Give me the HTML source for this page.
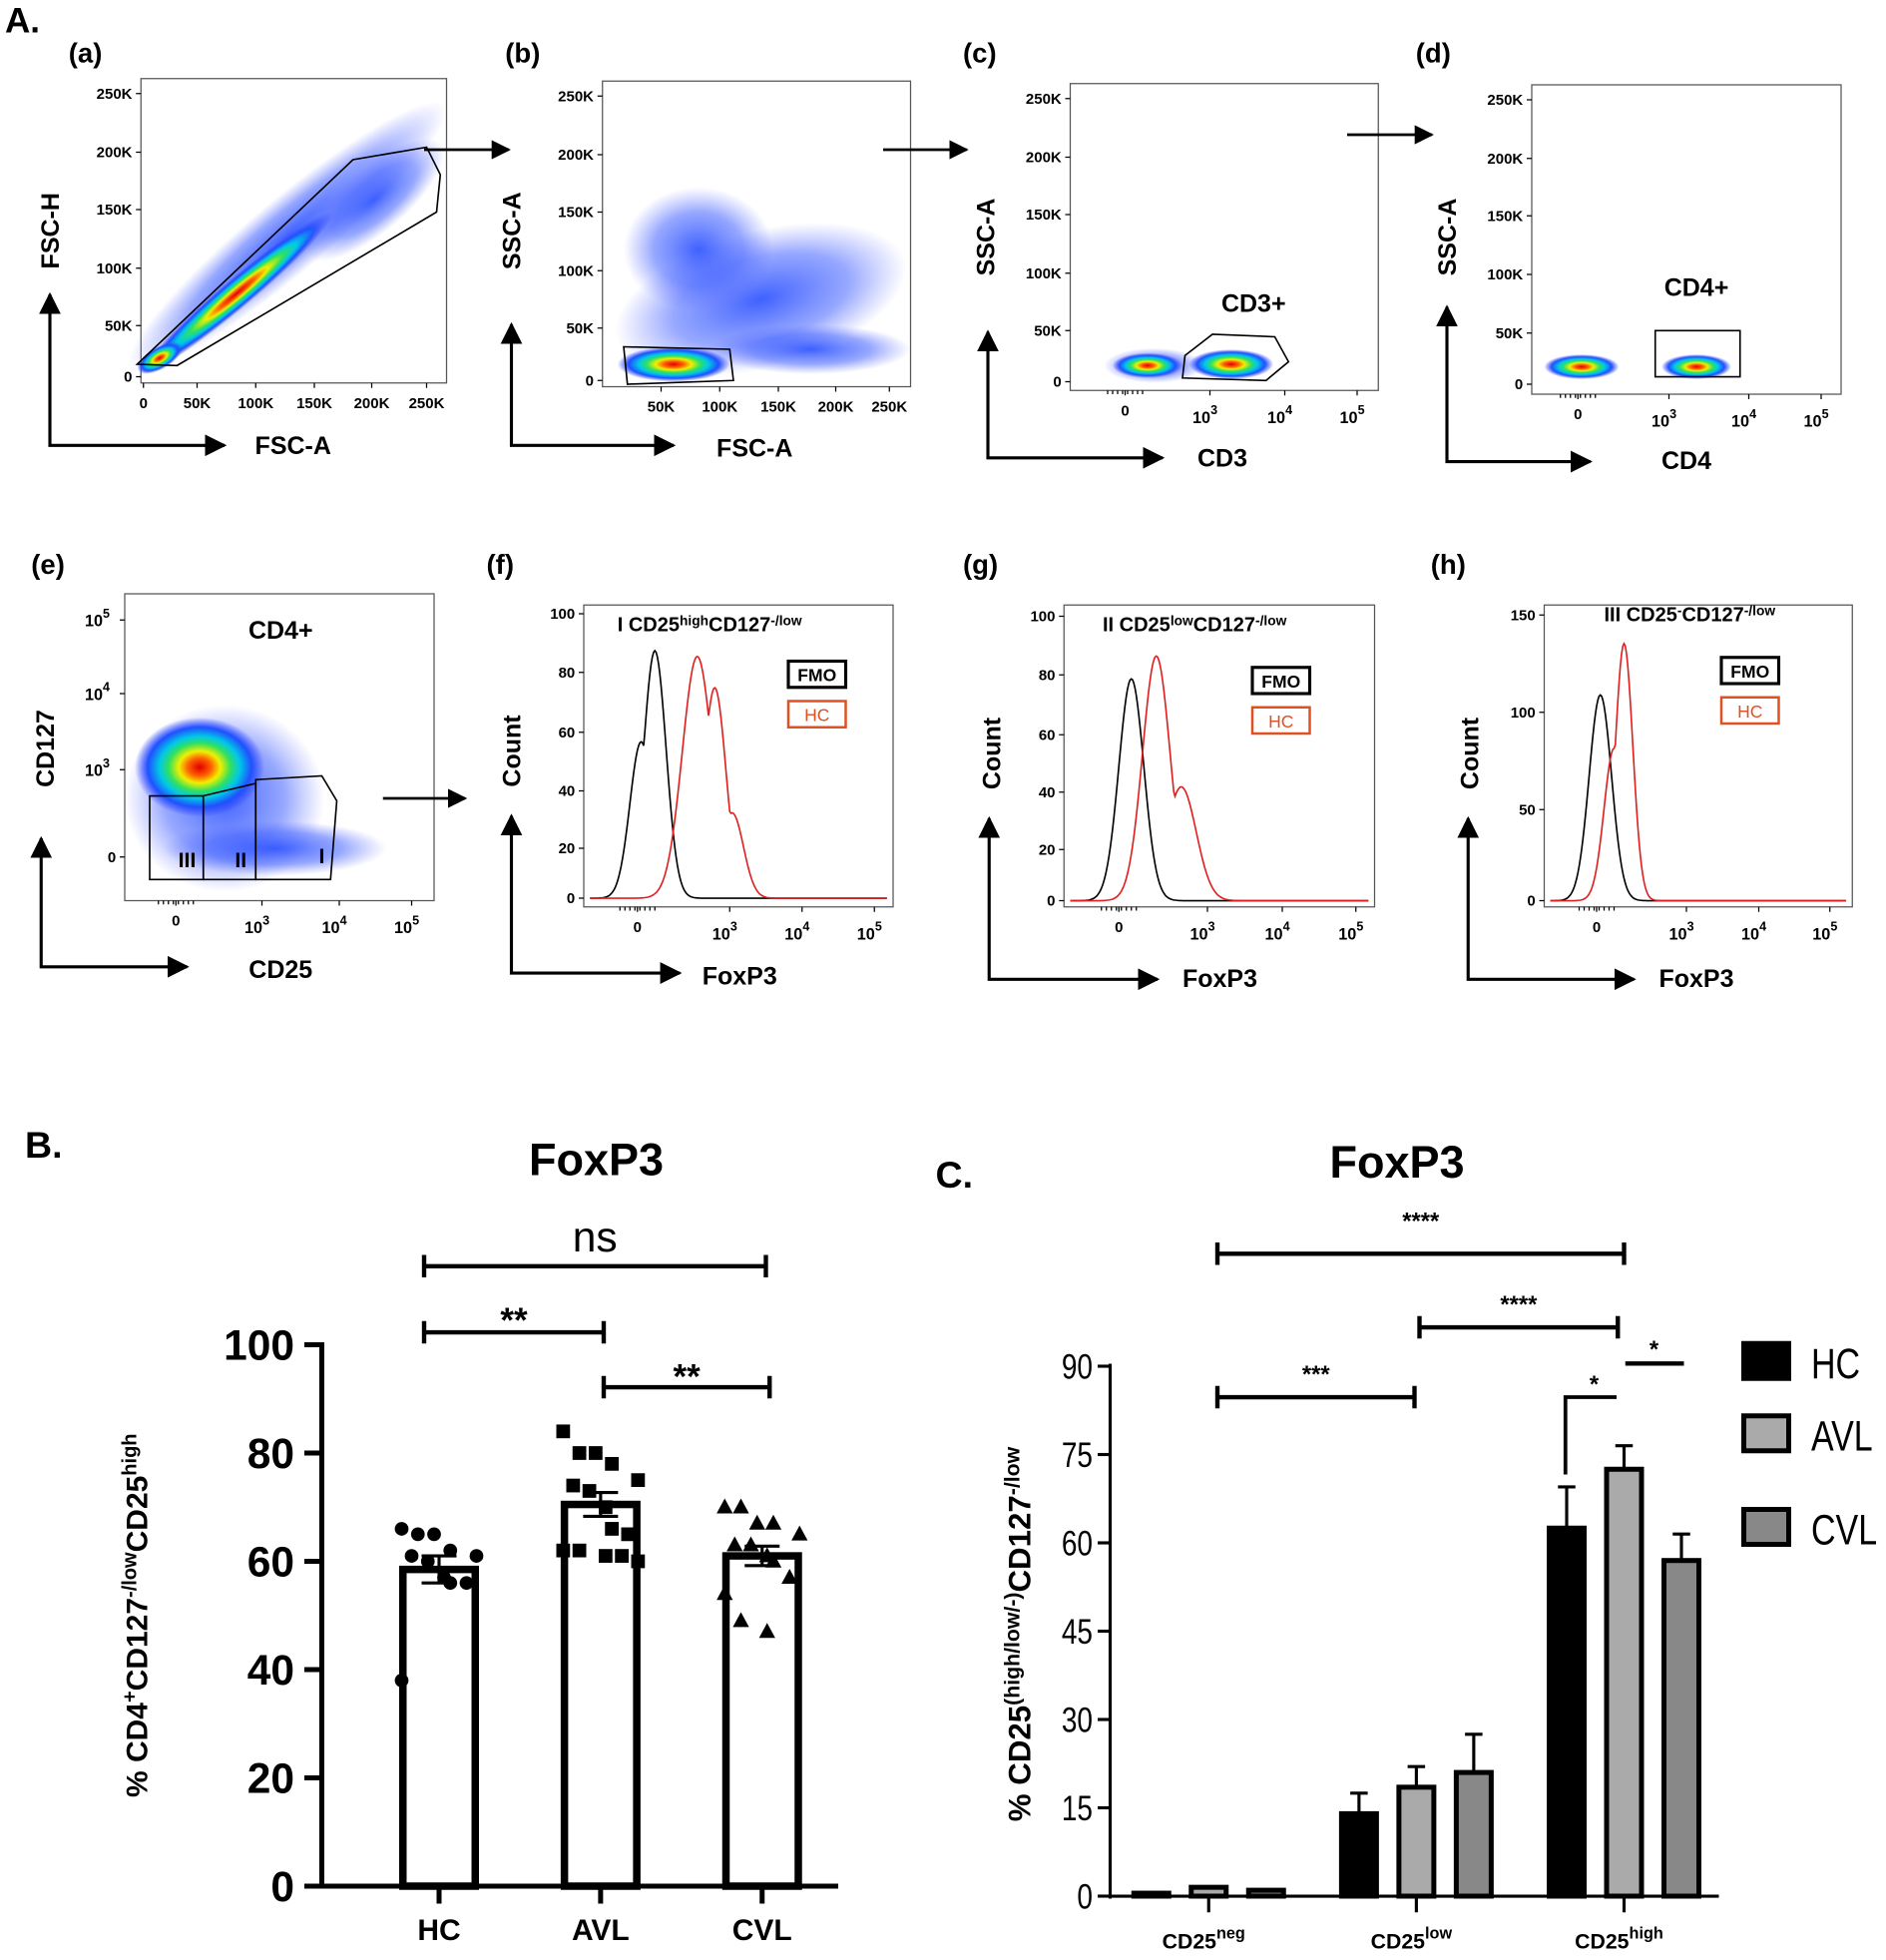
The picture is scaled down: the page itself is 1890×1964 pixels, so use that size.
<!DOCTYPE html>
<html><head><meta charset="utf-8">
<style>
html,body{margin:0;padding:0;background:#fff;}
svg{display:block;font-family:"Liberation Sans",Arial,sans-serif;}
</style></head>
<body>
<svg id="fig" width="1890" height="1964" viewBox="0 0 1512 1571.2" xmlns="http://www.w3.org/2000/svg">
<defs>
<radialGradient id="heat">
<stop offset="0" stop-color="#e00000"/>
<stop offset="0.18" stop-color="#ff6000"/>
<stop offset="0.32" stop-color="#f0f000"/>
<stop offset="0.48" stop-color="#30e060"/>
<stop offset="0.62" stop-color="#00c8e8"/>
<stop offset="0.8" stop-color="#2050ff"/>
<stop offset="1" stop-color="#3040ff" stop-opacity="0"/>
</radialGradient>
<radialGradient id="cloud">
<stop offset="0" stop-color="#2a50ff" stop-opacity="0.9"/>
<stop offset="0.6" stop-color="#4060ff" stop-opacity="0.55"/>
<stop offset="1" stop-color="#6070ff" stop-opacity="0"/>
</radialGradient>
<marker id="arr" viewBox="0 0 10 10" refX="9" refY="5" markerWidth="7" markerHeight="7" orient="auto-start-reverse"><path d="M0,0 L10,5 L0,10 z" fill="#000"/></marker>
</defs>
<text x="4" y="26" font-size="28" font-weight="bold">A.</text>
<g id="panelA"></g>
<g id="panelB"></g>
<g id="panelC"></g>
</svg>
<script>
const NS="http://www.w3.org/2000/svg";
function mk(parent,tag,attrs,text){const e=document.createElementNS(NS,tag);for(const k in attrs)e.setAttribute(k,attrs[k]);if(text!==undefined)e.textContent=text;parent.appendChild(e);return e;}
const A=document.getElementById('panelA');

/* ---------- Panel A: flow plots ---------- */
const plots=[
 {id:'a',lab:[55,50],box:[113,63,358,307],yl:['0','50K','100K','150K','200K','250K'],yp:[302,261,215,168,122,75],xl:['0','50K','100K','150K','200K','250K'],xp:[115,158,205,252,298,342],ax:[40,236,357,180],yt:'FSC-H',ytp:[40,185],xt:'FSC-A',xtp:[235,364],log:false},
 {id:'b',lab:[405,50],box:[483,65,730,310],yl:['0','50K','100K','150K','200K','250K'],yp:[305,263,217,170,124,77],xl:['50K','100K','150K','200K','250K'],xp:[530,577,624,670,713],ax:[410,260,357,540],yt:'SSC-A',ytp:[410,185],xt:'FSC-A',xtp:[605,366],log:false},
 {id:'c',lab:[772,50],box:[858,67,1105,313],yl:['0','50K','100K','150K','200K','250K'],yp:[306,265,219,172,126,79],xl:['0','3','4','5'],xp:[902,970,1030,1088],ax:[792,266,367,932],yt:'SSC-A',ytp:[790,190],xt:'CD3',xtp:[980,374],log:true},
 {id:'d',lab:[1135,50],box:[1228,68,1476,316],yl:['0','50K','100K','150K','200K','250K'],yp:[308,267,220,173,127,80],xl:['0','3','4','5'],xp:[1265,1338,1402,1460],ax:[1160,246,370,1275],yt:'SSC-A',ytp:[1160,190],xt:'CD4',xtp:[1352,376],log:true},
 {id:'e',lab:[25,460],box:[100,476,348,722],yl:['0','3','4','5'],yp:[687,617,556,497],ylog:true,xl:['0','3','4','5'],xp:[141,210,272,330],ax:[33,672,775,150],yt:'CD127',ytp:[36,600],xt:'CD25',xtp:[225,784],log:true},
 {id:'f',lab:[390,460],box:[468,485,716,727],yl:['0','20','40','60','80','100'],yp:[720,680,634,587,539,492],xl:['0','3','4','5'],xp:[511,585,643,701],ax:[410,654,780,545],yt:'Count',ytp:[410,602],xt:'FoxP3',xtp:[593,789],log:true},
 {id:'g',lab:[772,460],box:[853,485,1102,727],yl:['0','20','40','60','80','100'],yp:[722,681,635,589,541,494],xl:['0','3','4','5'],xp:[897,968,1028,1087],ax:[793,656,785,928],yt:'Count',ytp:[795,604],xt:'FoxP3',xtp:[978,791],log:true},
 {id:'h',lab:[1147,460],box:[1238,485,1485,727],yl:['0','50','100','150'],yp:[722,649,571,493],xl:['0','3','4','5'],xp:[1280,1352,1410,1467],ax:[1177,656,785,1310],yt:'Count',ytp:[1178,604],xt:'FoxP3',xtp:[1360,791],log:true}
];
plots.forEach(p=>{
 const g=mk(A,'g',{});
 
 
 mk(g,'text',{x:p.lab[0],y:p.lab[1],'font-size':22,'font-weight':'bold'},'('+p.id+')');
 const [x0,y0,x1,y1]=p.box;
 mk(g,'rect',{x:x0,y:y0,width:x1-x0,height:y1-y0,fill:'none',stroke:'#555','stroke-width':1});
 p.yl.forEach((l,i)=>{
   mk(g,'line',{x1:x0-4,x2:x0,y1:p.yp[i],y2:p.yp[i],stroke:'#000'});
   if(p.ylog&&l!=='0'){const t=mk(g,'text',{x:x0-12,y:p.yp[i]+5,'font-size':13,'font-weight':'bold','text-anchor':'end'},'10');mk(t,'tspan',{dy:-7,'font-size':10},l);}
   else mk(g,'text',{x:x0-7,y:p.yp[i]+4,'font-size':12,'font-weight':'bold','text-anchor':'end'},l);
 });
 p.xl.forEach((l,i)=>{
   mk(g,'line',{x1:p.xp[i],x2:p.xp[i],y1:y1,y2:y1+4,stroke:'#000'});
   if(p.log&&l!=='0'){const t=mk(g,'text',{x:p.xp[i]-4,y:y1+26,'font-size':13,'font-weight':'bold','text-anchor':'middle'},'10');mk(t,'tspan',{dy:-7,'font-size':10},l);}
   else mk(g,'text',{x:p.xp[i],y:y1+20,'font-size':12,'font-weight':'bold','text-anchor':'middle'},l);
 });
 if(p.log){for(let k=0;k<8;k++)mk(g,'line',{x1:p.xp[0]-14+k*4,x2:p.xp[0]-14+k*4,y1:y1,y2:y1+3,stroke:'#000'});}
 const [ax,ayT,ayB,axR]=p.ax;
 mk(g,'path',{d:`M${ax},${ayT} L${ax},${ayB} L${axR},${ayB}`,fill:'none',stroke:'#000','stroke-width':2.5,'marker-start':'url(#arr)','marker-end':'url(#arr)'});
 mk(g,'text',{x:p.ytp[0],y:p.ytp[1],'font-size':20,'font-weight':'bold','text-anchor':'middle',transform:`rotate(-90 ${p.ytp[0]} ${p.ytp[1]}) translate(0 7)`},p.yt);
 mk(g,'text',{x:p.xtp[0],y:p.xtp[1],'font-size':20,'font-weight':'bold','text-anchor':'middle'},p.xt);
});
/* density clouds (decorative) */
const dens=[
 ['cloud',230,190,165,30,-40],['heat',190,235,100,12,-40],['heat',128,287,20,9,-30],['cloud',300,160,70,26,-40],
 ['cloud',610,240,120,55,-15],['cloud',560,200,60,50,0],['heat',540,292,45,14,0],['cloud',650,280,80,20,0],
 ['cloud',925,293,40,14,0],['heat',920,293,28,10,0],['heat',987,292,34,12,0],
 ['heat',1268,294,30,10,0],['heat',1360,294,28,10,0],
 ['cloud',180,640,80,75,0],['heat',160,615,52,40,0],['cloud',220,680,90,22,0]
];
dens.forEach(d=>{const e=mk(A,'ellipse',{cx:d[1],cy:d[2],rx:d[3],ry:d[4],fill:`url(#${d[0]})`,transform:`rotate(${d[5]} ${d[1]} ${d[2]})`});
 
 });
/* gates */
const gates=['110,292 283,128 342,118 353,140 350,170 142,293','500,278 585,280 588,305 503,308','950,285 972,268 1022,270 1033,290 1015,305 948,303','1327,265 1395,265 1395,302 1327,302','120,638 163,638 163,705 120,705','163,638 205,628 205,705 163,705','205,625 258,622 270,642 265,705 205,705'];
gates.forEach(pts=>{const e=mk(A,'polygon',{points:pts,fill:'none',stroke:'#000','stroke-width':1.3});
 
 });
[['CD3+',1005,250],['CD4+',1360,237],['CD4+',225,512]].forEach(t=>mk(A,'text',{x:t[1],y:t[2],'font-size':20,'font-weight':'bold','text-anchor':'middle'},t[0]));
[['III',150,695],['II',193,695],['I',258,692]].forEach(t=>mk(A,'text',{x:t[1],y:t[2],'font-size':17,'font-weight':'bold','text-anchor':'middle'},t[0]));
/* arrows between plots */
[[340,120,408,120],[708,120,775,120],[1080,108,1148,108],[307,640,373,640]].forEach(a=>mk(A,'line',{x1:a[0],y1:a[1],x2:a[2],y2:a[3],stroke:'#000','stroke-width':2.2,'marker-end':'url(#arr)'}));
/* histogram headings / legends */
function head(x,y,pre,sup1,mid,sup2){const t=mk(A,'text',{x:x,y:y,'font-size':16,'font-weight':'bold'},pre);mk(t,'tspan',{dy:-5,'font-size':11},sup1);mk(t,'tspan',{dy:5},mid);mk(t,'tspan',{dy:-5,'font-size':11},sup2);}
head(495,506,'I CD25','high','CD127','-/low');head(884,506,'II CD25','low','CD127','-/low');head(1286,498,'III CD25','-','CD127','-/low');
[[632,530],[1004,535],[1380,527]].forEach(b=>{mk(A,'rect',{x:b[0],y:b[1],width:46,height:21,fill:'none',stroke:'#000','stroke-width':2.5});mk(A,'text',{x:b[0]+23,y:b[1]+16,'font-size':14,'font-weight':'bold','text-anchor':'middle'},'FMO');});
[[632,562],[1004,567],[1380,559]].forEach(b=>{mk(A,'rect',{x:b[0],y:b[1],width:46,height:21,fill:'none',stroke:'#e05020','stroke-width':2});mk(A,'text',{x:b[0]+23,y:b[1]+16,'font-size':14,'fill':'#e05020','text-anchor':'middle'},'HC');});

/* histogram data: [peak offset from zero tick (px), count, width] */
const histF_fmo=[[14,87,9],[3,55,9]], histF_hc=[[48,85,12],[62,74,9],[76,30,9]];
const histG_fmo=[[10,78,10]], histG_hc=[[30,86,11],[50,40,12]];
const histH_fmo=[[3,108,9]], histH_hc=[[22,135,7],[14,80,8]];
function hist(p,comps,color,name){
 const [x0,y0,x1,y1]=p.box; const yz=p.yp[0], ytop=p.yp[p.yp.length-1], vmax=+p.yl[p.yl.length-1];
 const sy=v=>yz-(v/vmax)*(yz-ytop);
 let d='';
 for(let x=x0+5;x<=x1-5;x+=1){const u=x-p.xp[0];let v=0;comps.forEach(c=>{v=Math.max(v,c[1]*Math.exp(-((u-c[0])**2)/(2*c[2]*c[2])));});d+=(d?'L':'M')+x+','+sy(v).toFixed(1);}
 const e=mk(A,'path',{d:d,fill:'none',stroke:color,'stroke-width':1.3});
 
 
}
hist(plots[5],histF_fmo,'#000','fmo-histogram-f');hist(plots[5],histF_hc,'#e02020','hc-histogram-f');
hist(plots[6],histG_fmo,'#000','fmo-histogram-g');hist(plots[6],histG_hc,'#e02020','hc-histogram-g');
hist(plots[7],histH_fmo,'#000','fmo-histogram-h');hist(plots[7],histH_hc,'#e02020','hc-histogram-h');

/* ---------- Panel B ---------- */
const bCats=['HC','AVL','CVL'];
const bMeans=[58.5,70.5,61];
const bSem=[2.5,2.2,1.8];
const bHC=[66,65,65,62,61,61,60,57,56,56,38];
const bAVL=[84,80,80,78,75,74,73,70,66,65,62,62,61,61,60];
const bCVL=[70,70,67,67,65,63,63,61,60,57,54,49,47];
const bTicks=[0,20,40,60,80,100];
const B=document.getElementById('panelB');
const bx0=258,bxR=672,by=v=>1512-v*4.34, bxc=i=>352+i*129.5;
mk(B,'text',{x:20,y:928,'font-size':30,'font-weight':'bold'},'B.');
mk(B,'text',{x:478,y:942,'font-size':36,'font-weight':'bold','text-anchor':'middle'},'FoxP3');
mk(B,'line',{x1:bx0,y1:by(100)-2,x2:bx0,y2:1514,stroke:'#000','stroke-width':4});
mk(B,'line',{x1:bx0-2,y1:1512,x2:bxR,y2:1512,stroke:'#000','stroke-width':4});
bTicks.forEach(t=>{mk(B,'line',{x1:bx0-14,x2:bx0,y1:by(t),y2:by(t),stroke:'#000','stroke-width':4});mk(B,'text',{x:bx0-22,y:by(t)+12,'font-size':34,'font-weight':'bold','text-anchor':'end'},t);});
mk(B,'text',{x:118,y:1295,'font-size':24,'font-weight':'bold','text-anchor':'middle',transform:'rotate(-90 118 1295)'}).innerHTML='% CD4<tspan dy="-9" font-size="16">+</tspan><tspan dy="9">CD127</tspan><tspan dy="-9" font-size="16">-/low</tspan><tspan dy="9">CD25</tspan><tspan dy="-9" font-size="16">high</tspan>';
const shapes=[bHC,bAVL,bCVL];
bCats.forEach((c,i)=>{
 const x=bxc(i);
 const r=mk(B,'rect',{x:x-29,y:by(bMeans[i]),width:58,height:1512-by(bMeans[i]),fill:'#fff',stroke:'#000','stroke-width':6});
 
 
 mk(B,'line',{x1:x,x2:x,y1:1512,y2:1526,stroke:'#000','stroke-width':4});
 mk(B,'text',{x:x,y:1555,'font-size':24,'font-weight':'bold','text-anchor':'middle'},c);
 shapes[i].forEach((v,j)=>{
  const dx=((j%5)-2)*13+((j>>2)%2?4:-4), cx=x+dx, cy=by(v);
  let e;
  if(i===0)e=mk(B,'circle',{cx:cx,cy:cy,r:5.5,fill:'#000'});
  else if(i===1)e=mk(B,'rect',{x:cx-5.5,y:cy-5.5,width:11,height:11,fill:'#000'});
  else e=mk(B,'polygon',{points:`${cx},${cy-7} ${cx+6.5},${cy+5} ${cx-6.5},${cy+5}`,fill:'#000'});
  
  
 });
 const ys=by(bMeans[i]+bSem[i]),yl=by(bMeans[i]-bSem[i]);
 mk(B,'path',{d:`M${x},${yl} L${x},${ys} M${x-14},${ys} L${x+14},${ys} M${x-14},${yl} L${x+14},${yl}`,stroke:'#000','stroke-width':2.5});
});
function bracket(g,x1,x2,y,h,lab,fs,ly){mk(g,'path',{d:`M${x1},${y-h} L${x1},${y+h} M${x1},${y} L${x2},${y} M${x2},${y-h} L${x2},${y+h}`,stroke:'#000','stroke-width':3.5,fill:'none'});mk(g,'text',{x:(x1+x2)/2,y:ly,'font-size':fs,'font-weight':'bold','text-anchor':'middle'},lab);}
bracket(B,340,614,1015,9,'',0,0);mk(B,'text',{x:477,y:1003,'font-size':34,'text-anchor':'middle'},'ns');
bracket(B,340,484,1068,9,'**',28,1068);bracket(B,484,617,1112,9,'**',28,1113);

/* ---------- Panel C ---------- */
const cCats=['neg','low','high'];
const cHC=[0.5,14,62.5];
const cAVL=[1.5,18.5,72.5];
const cCVL=[1,21,57];
const cHCerr=[0.3,3.5,7];
const cAVLerr=[0.5,3.5,4];
const cCVLerr=[0.3,6.5,4.5];
const cTicks=[0,15,30,45,60,75,90];
const C=document.getElementById('panelC');
const cx0=890,cy=v=>1520-v*4.72;
const gc=i=>969+i*166.5, offs=[-46,0,46];
mk(C,'text',{x:750,y:952,'font-size':30,'font-weight':'bold'},'C.');
mk(C,'text',{x:1120,y:944,'font-size':36,'font-weight':'bold','text-anchor':'middle'},'FoxP3');
mk(C,'line',{x1:cx0,y1:cy(90)-2,x2:cx0,y2:1522,stroke:'#000','stroke-width':2.5});
mk(C,'line',{x1:cx0,y1:1520,x2:1378,y2:1520,stroke:'#000','stroke-width':2.5});
cTicks.forEach(t=>{mk(C,'line',{x1:cx0-10,x2:cx0,y1:cy(t),y2:cy(t),stroke:'#000','stroke-width':2.5});mk(C,'text',{x:cx0-14,y:cy(t)+10,'font-size':28,'text-anchor':'end',transform:`scale(0.8 1) translate(${(cx0-14)*0.25} 0)`},t);});
mk(C,'text',{x:826,y:1310,'font-size':25,'font-weight':'bold','text-anchor':'middle',transform:'rotate(-90 826 1310)'}).innerHTML='% CD25<tspan dy="-9" font-size="17">(high/low/-)</tspan><tspan dy="9">CD127</tspan><tspan dy="-9" font-size="17">-/low</tspan>';
const series=[[cHC,cHCerr,'#000','hc'],[cAVL,cAVLerr,'#aaa','avl'],[cCVL,cCVLerr,'#888','cvl']];
cCats.forEach((c,i)=>{
 const x=gc(i);
 mk(C,'line',{x1:x,x2:x,y1:1520,y2:1533,stroke:'#000','stroke-width':2.5});
 const t=mk(C,'text',{x:x-4,y:1562,'font-size':17,'font-weight':'bold','text-anchor':'middle'},'CD25');mk(t,'tspan',{dy:-8,'font-size':13},c);
 series.forEach((s,k)=>{
  const v=s[0][i],xc=x+offs[k],top=cy(v),et=cy(v+s[1][i]);
  if(s[1][i]>0.6){mk(C,'path',{d:`M${xc},${top} L${xc},${et} M${xc-7},${et} L${xc+7},${et}`,stroke:'#000','stroke-width':2.5});}
  const r=mk(C,'rect',{x:xc-14,y:top,width:28,height:1520-top,fill:s[2],stroke:'#000','stroke-width':4});
  
  
 });
});
bracket(C,976,1302,1005,9,'****',19,985);
bracket(C,1138,1297,1064,9,'****',19,1052);
bracket(C,976,1134,1120,9,'***',19,1108);
mk(C,'path',{d:'M1255,1182 L1255,1120 L1296,1120',stroke:'#000','stroke-width':3,fill:'none'});mk(C,'text',{x:1278,y:1116,'font-size':19,'font-weight':'bold','text-anchor':'middle'},'*');
mk(C,'line',{x1:1303,x2:1350,y1:1093,y2:1093,stroke:'#000','stroke-width':3.5});mk(C,'text',{x:1326,y:1088,'font-size':19,'font-weight':'bold','text-anchor':'middle'},'*');
[['HC','#000',1075],['AVL','#aaa',1133],['CVL','#888',1208]].forEach(l=>{
 const g=mk(C,'g',{});
 
 
 mk(g,'rect',{x:1398,y:l[2]+2,width:36,height:28,fill:l[1],stroke:'#000','stroke-width':4});
 mk(g,'text',{x:1452,y:l[2]+30,'font-size':34,transform:`scale(0.8 1) translate(${1452*0.25} 0)`},l[0]);
});
</script>
</body></html>
